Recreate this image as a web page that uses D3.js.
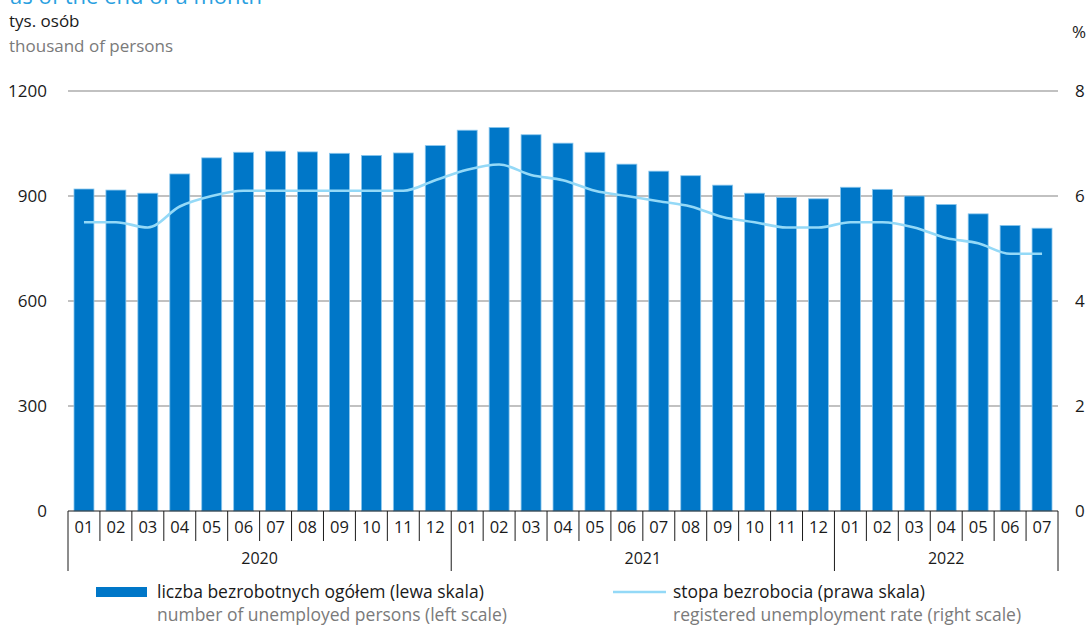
<!DOCTYPE html>
<html><head><meta charset="utf-8">
<script src="https://cdn.jsdelivr.net/npm/d3@7"></script>
<style>body{margin:0;background:#fff}svg{display:block;font-family:"Open Sans",sans-serif}</style>
</head><body><svg id="c" width="1090" height="626"></svg>
<script>
const years = ["2020","2021","2022"];
const months = ["01","02","03","04","05","06","07","08","09","10","11","12",
  "01","02","03","04","05","06","07","08","09","10","11","12",
  "01","02","03","04","05","06","07"];
const monthYear = [0,0,0,0,0,0,0,0,0,0,0,0,1,1,1,1,1,1,1,1,1,1,1,1,2,2,2,2,2,2,2];
const unemployed = [920,917,908,963,1009,1025,1028,1026,1022,1016,1023,1044,
  1088,1096,1075,1051,1025,991,971,958,931,908,896,892,
  925,919,900,876,849,816,808];
const rate = [5.5,5.5,5.4,5.8,6.0,6.1,6.1,6.1,6.1,6.1,6.1,6.3,
  6.5,6.6,6.4,6.3,6.1,6.0,5.9,5.8,5.6,5.5,5.4,5.4,
  5.5,5.5,5.4,5.2,5.1,4.9,4.9];
const leftTicks = [0,300,600,900,1200];
const rightTicks = [0,2,4,6,8];

const svg = d3.select("#c");
const x0 = 68, x1 = 1058, yTop = 91, yBot = 511;
const idx = d3.range(months.length);
const x = d3.scaleBand().domain(idx).range([x0, x1]).paddingInner(0.375).paddingOuter(0.1875);
const xs = d3.scaleBand().domain(idx).range([x0, x1]);
const yL = d3.scaleLinear().domain([0,1200]).range([yBot, yTop]);
const yR = d3.scaleLinear().domain([0,8]).range([yBot, yTop]);

// title fragment (cut off at top, as in the source)
svg.append("text").attr("x",10).attr("y",4).attr("font-size",22).attr("fill","#2a9fdf")
  .text("as of the end of a month");
svg.append("text").attr("x",9).attr("y",27).attr("font-size",17).attr("fill","#1a1a1a").text("tys. osób");
svg.append("text").attr("x",9).attr("y",52).attr("font-size",17).attr("fill","#7a7a7a").text("thousand of persons");
svg.append("text").attr("x",1072).attr("y",38).attr("font-size",17).attr("fill","#1a1a1a").text("%");

// gridlines
const gl = svg.append("g");
leftTicks.filter(d=>d>0).forEach(t=>{
  gl.append("line").attr("x1",x0).attr("x2",x1).attr("y1",yL(t)).attr("y2",yL(t))
    .attr("stroke","#acacac").attr("stroke-width",1.5);
});
// left labels
const lAxis = d3.axisLeft(yL).tickValues(leftTicks).tickFormat(d3.format("d")).tickSize(0).tickPadding(0);
svg.append("g").attr("transform",`translate(47,0)`).call(lAxis)
  .call(g=>g.select(".domain").remove())
  .selectAll("text").attr("font-size",17).attr("fill","#1a1a1a").attr("font-family","Open Sans");
const rAxis = d3.axisRight(yR).tickValues(rightTicks).tickSize(0).tickPadding(0);
svg.append("g").attr("transform",`translate(1075,0)`).call(rAxis)
  .call(g=>g.select(".domain").remove())
  .selectAll("text").attr("font-size",17).attr("fill","#1a1a1a").attr("font-family","Open Sans");

// bars
svg.append("g").selectAll("rect").data(unemployed).join("rect")
  .attr("x",(d,i)=>x(i)).attr("width",x.bandwidth())
  .attr("y",d=>yL(d)).attr("height",d=>yBot-yL(d))
  .attr("fill","#0077c8").attr("stroke","#8cc8ee").attr("stroke-width",0.8);

// line
const line = d3.line().x((d,i)=>xs(i)+xs.bandwidth()/2).y(d=>yR(d)).curve(d3.curveMonotoneX);
svg.append("path").datum(rate).attr("d",line).attr("fill","none")
  .attr("stroke","#94d9f7").attr("stroke-width",2.6);

// category axis
const ax = svg.append("g");
ax.append("line").attr("x1",x0).attr("x2",x1).attr("y1",yBot).attr("y2",yBot).attr("stroke","#1a1a1a").attr("stroke-width",1);
idx.forEach(i=>{
  const left = xs(i);
  const isYearStart = i===0 || monthYear[i]!==monthYear[i-1];
  ax.append("line").attr("x1",left).attr("x2",left).attr("y1",yBot).attr("y2",isYearStart?571:541)
    .attr("stroke","#1a1a1a").attr("stroke-width",1);
  ax.append("text").attr("x",left+xs.bandwidth()/2).attr("y",533).attr("text-anchor","middle")
    .attr("font-size",16.5).attr("fill","#1a1a1a").text(months[i]);
});
ax.append("line").attr("x1",x1).attr("x2",x1).attr("y1",yBot).attr("y2",571).attr("stroke","#1a1a1a");
years.forEach((yv,k)=>{
  const ids = idx.filter(i=>monthYear[i]===k);
  const a = xs(ids[0]), b = xs(ids[ids.length-1])+xs.bandwidth();
  ax.append("text").attr("x",(a+b)/2).attr("y",564).attr("text-anchor","middle")
    .attr("font-size",16).attr("fill","#1a1a1a").text(yv);
});

// legend
const lg = svg.append("g");
lg.append("rect").attr("x",96).attr("y",587).attr("width",51).attr("height",10).attr("fill","#0077c8");
lg.append("text").attr("x",157).attr("y",598).attr("font-size",17.5).attr("fill","#1a1a1a").text("liczba bezrobotnych ogółem (lewa skala)");
lg.append("text").attr("x",157).attr("y",621).attr("font-size",17.5).attr("fill","#7a7a7a").text("number of unemployed persons (left scale)");
lg.append("line").attr("x1",613).attr("x2",666).attr("y1",592).attr("y2",592).attr("stroke","#94d9f7").attr("stroke-width",2.6);
lg.append("text").attr("x",673).attr("y",598).attr("font-size",17.5).attr("fill","#1a1a1a").text("stopa bezrobocia (prawa skala)");
lg.append("text").attr("x",673).attr("y",621).attr("font-size",17.5).attr("fill","#7a7a7a").text("registered unemployment rate (right scale)");
</script></body></html>
